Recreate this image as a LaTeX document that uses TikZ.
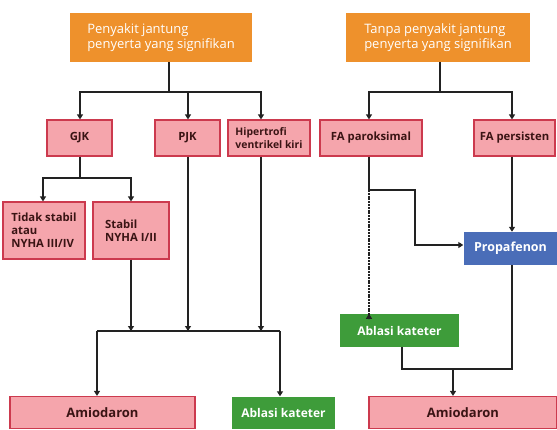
\documentclass[tikz,border=0pt]{standalone}
\usepackage{fontspec}
\setmainfont{Open Sans}
\usetikzlibrary{arrows.meta}
\definecolor{org}{HTML}{EE912C}
\definecolor{pinkf}{HTML}{F5A5AC}
\definecolor{pinkd}{HTML}{CC3A4E}
\definecolor{grn}{HTML}{3E9C3A}
\definecolor{blu}{HTML}{4A6DB8}
\definecolor{txtd}{HTML}{3A1414}
\definecolor{ln}{HTML}{222222}
\tikzset{
  orangebox/.style={rectangle, fill=org, text=white, align=left, font=\fontsize{13}{15}\selectfont, inner sep=0pt},
  pinkbox/.style={rectangle, fill=pinkf, draw=pinkd, line width=1.2pt, text=txtd, align=left, font=\bfseries\fontsize{11.3}{13}\selectfont, inner sep=0pt},
  bigpink/.style={pinkbox, font=\bfseries\fontsize{13}{15}\selectfont},
  greenbox/.style={rectangle, fill=grn, text=white, font=\bfseries\fontsize{12}{14}\selectfont, inner sep=0pt},
  bluebox/.style={rectangle, fill=blu, text=white, font=\bfseries\fontsize{12.5}{14}\selectfont, inner sep=0pt},
  conn/.style={draw=ln, line width=1.3pt},
  arr/.style={conn, -{Triangle[width=6pt,length=5pt]}},
}
\begin{document}
\begin{tikzpicture}[x=1pt,y=-1pt]
\useasboundingbox (0,0) rectangle (557,429);
% top
\node[orangebox, minimum width=182, minimum height=49] (L0) at (161,37.5) {Penyakit jantung\\penyerta yang signifikan};
\node[orangebox, minimum width=184, minimum height=49] (R0) at (438,37.5) {Tanpa penyakit jantung\\penyerta yang signifikan};
% row 2
\node[pinkbox, minimum width=65, minimum height=36] (gjk) at (79.5,138) {GJK};
\node[pinkbox, minimum width=65, minimum height=36] (pjk) at (187.5,138) {PJK};
\node[pinkbox, minimum width=82, minimum height=36, font=\bfseries\fontsize{10.4}{12.5}\selectfont] (hip) at (269,138) {Hipertrofi\\ventrikel kiri};
\node[pinkbox, minimum width=102, minimum height=36] (fap) at (371,138) {FA paroksimal};
\node[pinkbox, minimum width=81, minimum height=36] (fas) at (514.5,138) {FA persisten};
% row 3
\node[pinkbox, minimum width=82, minimum height=57] (tid) at (44,230.5) {Tidak stabil\\atau\\NYHA III/IV};
\node[pinkbox, minimum width=76, minimum height=57] (sta) at (131,230.5) {Stabil\\NYHA I/II};
\node[bluebox, minimum width=94, minimum height=33] (pro) at (510.5,248.5) {Propafenon};
\node[greenbox, minimum width=119, minimum height=33] (abr) at (399.5,330.5) {Ablasi kateter};
% bottom
\node[bigpink, minimum width=185, minimum height=32] (aml) at (102.5,412.5) {Amiodaron};
\node[greenbox, minimum width=103, minimum height=32] (abl) at (283.5,412.5) {Ablasi kateter};
\node[bigpink, minimum width=188, minimum height=32] (amr) at (463,412.5) {Amiodaron};
% junctions
\coordinate (jL) at (169,92);
\coordinate (jR) at (440,92);
\coordinate (jG) at (80,178);
\coordinate (jB) at (188,331);
\coordinate (jP) at (369,190);
\coordinate (jA) at (453,369);
% left top connectors
\draw[conn] (L0.south -| jL) -- (jL);
\draw[arr] (jL) -| (gjk.north -| 80,0);
\draw[arr] (jL) -| (pjk.north -| 188,0);
\draw[arr] (jL) -| (hip.north -| 261,0);
% right top connectors
\draw[conn] (R0.south -| jR) -- (jR);
\draw[arr] (jR) -| (fap.north -| 369,0);
\draw[arr] (jR) -| (fas.north -| 512,0);
% GJK split
\draw[conn] (gjk.south -| jG) -- (jG);
\draw[arr] (jG) -| (tid.north -| 43,0);
\draw[arr] (jG) -| (sta.north -| 131,0);
% merge
\draw[arr] (sta.south) -- (sta.south |- jB);
\draw[arr] (pjk.south -| 188,0) -- (jB);
\draw[arr] (hip.south -| 261,0) -- (261,331);
\draw[conn] (97,331) -- (280,331);
\draw[arr] (97,331) -- (aml.north -| 97,0);
\draw[arr] (280,331) -- (abl.north -| 280,0);
% right side
\draw[conn] (fap.south -| jP) -- (jP);
\draw[arr] (jP) -| (415,245) -- (pro.west |- 0,245);
\draw[draw=ln, line width=2pt, dash pattern=on 2pt off 0.8pt] (jP) -- ([yshift=-5pt]abr.north -| jP);
\draw[arr] ([yshift=-5.5pt]abr.north -| jP) -- (abr.north -| jP);
\draw[arr] (fas.south -| 512,0) -- (pro.north -| 512,0);
\draw[conn] (abr.south -| 402,0) |- (jA) -| (pro.south -| 512,0);
\draw[arr] (jA) -- (amr.north -| jA);
\end{tikzpicture}
\end{document}
